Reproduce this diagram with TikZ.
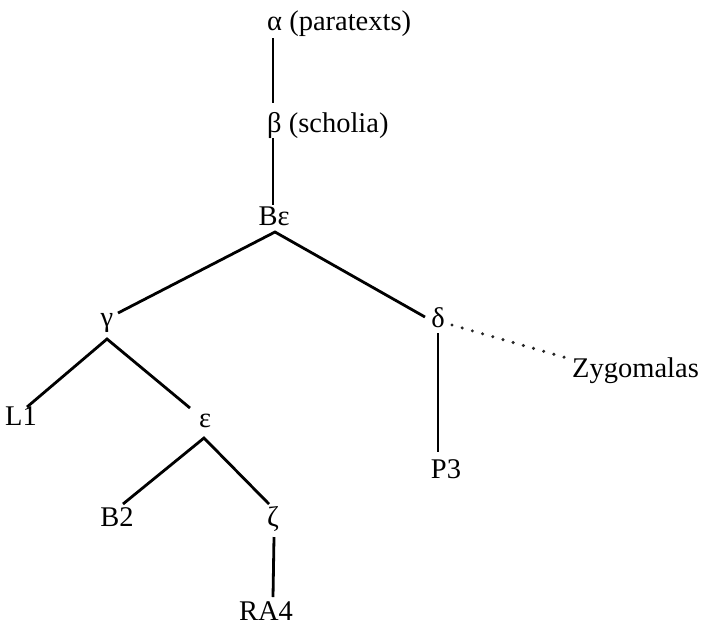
\documentclass[tikz,border=0pt]{standalone}
\usepackage{fontspec}
\setmainfont{Liberation Serif}
\usetikzlibrary{calc}
\begin{document}
\begin{tikzpicture}[x=1pt,y=-1pt,
  lbl/.style={inner sep=0pt, anchor=base, font=\fontsize{28.5}{34}\selectfont},
  lblw/.style={lbl, anchor=base west},
  edge/.style={line width=2.8pt},
  dotedge/.style={line width=3.4pt, dash pattern=on 0pt off 10.6pt, line cap=round, black!85}]
\useasboundingbox (0,0) rectangle (703,625);
% nodes
\node[lblw] (a)  at (267,30)  {α (paratexts)};
\node[lblw] (b)  at (267,132) {β (scholia)};
\node[lbl]  (be) at (274,225) {Bε};
\node[lbl]  (g)  at (107,326) {γ};
\node[lbl]  (d)  at (438,327) {δ};
\node[lbl]  (l1) at (21,425)  {L1};
\node[lbl]  (e)  at (205,427) {ε};
\node[lbl]  (b2) at (117,526) {B2};
\node[lbl]  (z)  at (273,526) {ζ};
\node[lbl]  (ra) at (266,620) {RA4};
\node[lbl]  (p3) at (446,478) {P3};
\node[lblw] (zy) at (572,377) {Zygomalas};
% connectors
\draw[edge] ($(a.base west)+(6,8)$) -- ($(b.base west)+(6,-29)$);
\draw[edge] ($(b.base west)+(6,6)$) -- ($(be.base)+(-1,-20)$);
\draw[edge] ($(g.base)+(11,-13)$) -- ($(be.base)+(1,7)$) -- ($(d.base)+(-13,-10)$);
\draw[edge] ($(l1.base)+(6,-18)$) -- ($(g.base)+(0,13)$) -- ($(e.base)+(-15,-19)$);
\draw[edge] ($(b2.base)+(6,-22)$) -- ($(e.base)+(-1,11)$) -- ($(z.base)+(-4,-22)$);
\draw[edge] ($(z.base)+(1,11)$) -- ($(ra.base)+(7,-23)$);
\draw[edge] ($(d.base)+(0,6)$) -- ($(p3.base)+(-8,-26)$);
\draw[dotedge] ($(d.base)+(14,-2)$) -- ($(zy.base west)+(-5,-19)$);
\end{tikzpicture}
\end{document}
